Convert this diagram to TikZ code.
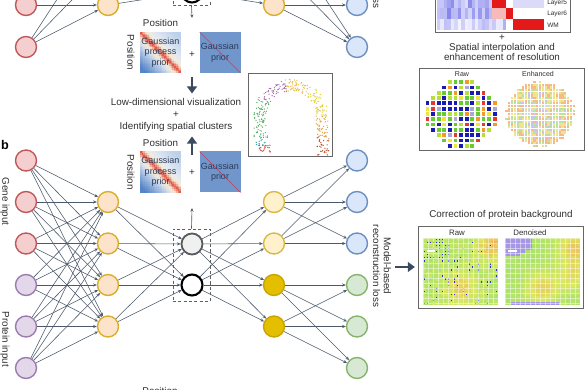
\documentclass[tikz,border=0pt]{standalone}
\usepackage{fontspec}
\setmainfont{Liberation Sans}
\usetikzlibrary{arrows.meta,calc,positioning,fit}

\definecolor{txtcol}{HTML}{2E2E2E}
\definecolor{genefill}{HTML}{F5CFD0}
\definecolor{genedraw}{HTML}{C0585A}
\definecolor{protfill}{HTML}{E3D7EA}
\definecolor{protdraw}{HTML}{9C7BAF}
\definecolor{encfill}{HTML}{FDE3CA}
\definecolor{encdraw}{HTML}{D9AE2B}
\definecolor{decfill}{HTML}{FFF1CC}
\definecolor{decdraw}{HTML}{D8B848}
\definecolor{golddeep}{HTML}{E4BF00}
\definecolor{golddraw}{HTML}{C9A300}
\definecolor{outgfill}{HTML}{DAE7FA}
\definecolor{outgdraw}{HTML}{6D8FC0}
\definecolor{outpfill}{HTML}{D7E9D4}
\definecolor{outpdraw}{HTML}{86B46A}
\definecolor{linkcol}{HTML}{4C5A6B}
\definecolor{arrcol}{HTML}{3B4A5E}
\definecolor{gaufill}{HTML}{7096CC}
\definecolor{gptext}{HTML}{2D3B58}
\definecolor{gpdeep}{HTML}{5585C8}
\definecolor{gppale}{HTML}{EEF1F6}
\definecolor{gpwarm}{HTML}{F8E6C4}
\definecolor{gpred}{HTML}{E05A4E}
\definecolor{gplite}{HTML}{BCD0EA}
\definecolor{hblue}{HTML}{5B5BE6}
\definecolor{hred}{HTML}{E41A1A}
\definecolor{rgreen}{HTML}{66CC33}
\definecolor{rlime}{HTML}{B5E03A}
\definecolor{ryellow}{HTML}{F0E33C}
\definecolor{rred}{HTML}{E43B2E}
\definecolor{rblue}{HTML}{1A1AB5}
\definecolor{rorange}{HTML}{F39A26}
\definecolor{rlav}{HTML}{A9A9D6}
\definecolor{eorange}{HTML}{F6B98A}
\definecolor{eyellow}{HTML}{F1E28E}
\definecolor{egreen}{HTML}{B9E39E}
\definecolor{elav}{HTML}{CAC4E8}
\definecolor{egray}{HTML}{DADADA}
\definecolor{pgreen}{HTML}{98E070}
\definecolor{pyellow}{HTML}{DCE85E}
\definecolor{porange}{HTML}{F2AE5E}
\definecolor{pblue}{HTML}{3535C4}
\definecolor{plav}{HTML}{A597E4}
\definecolor{umbrown}{HTML}{B5532A}
\definecolor{umorange}{HTML}{E39A2C}
\definecolor{umyellow}{HTML}{E3CF35}
\definecolor{umgold}{HTML}{EAB840}
\definecolor{ummauve}{HTML}{A46FB0}
\definecolor{umgreen}{HTML}{57AE62}
\definecolor{umteal}{HTML}{3AA6A6}
\definecolor{umred}{HTML}{D43A2E}

\pgfmathdeclarerandomlist{rawspots}{{rgreen}{rgreen}{rgreen}{rgreen}{rlime}{ryellow}{rred}{rblue}{rblue}{rblue}{rorange}{rlav}}
\pgfmathdeclarerandomlist{enhout}{{eorange}{eorange}{eyellow}{eorange}{egreen}{eyellow}}
\pgfmathdeclarerandomlist{enhmid}{{eyellow}{egreen}{egreen}{eorange}{elav}{eyellow}}
\pgfmathdeclarerandomlist{enhin}{{egreen}{elav}{egray}{eyellow}{egreen}{eorange}}

\begin{document}
\begin{tikzpicture}[x=0.25mm, y=-0.25mm,
  font=\fontsize{7}{8.5}\selectfont, every node/.style={text=txtcol},
  neuron/.style={circle, minimum size=5.25mm, inner sep=0pt, line width=1pt},
  gene/.style={neuron, fill=genefill, draw=genedraw},
  prot/.style={neuron, fill=protfill, draw=protdraw},
  enc/.style={neuron, fill=encfill, draw=encdraw},
  decl/.style={neuron, fill=decfill, draw=decdraw},
  decd/.style={neuron, fill=golddeep, draw=golddraw},
  outg/.style={neuron, fill=outgfill, draw=outgdraw},
  outp/.style={neuron, fill=outpfill, draw=outpdraw},
  zgray/.style={neuron, fill=gray!12, draw=gray!70!black, line width=1.3pt},
  zblack/.style={neuron, fill=white, draw=black, line width=1.5pt},
  zbox/.style={draw=gray!75!black, dash pattern=on 2.2pt off 1.6pt, line width=0.6pt, inner sep=0pt},
  nnlink/.style={draw=linkcol, line width=0.4pt, -{Stealth[length=2.6pt,width=2.2pt]}},
  thinarr/.style={draw=gray!70!black, line width=0.45pt, -{Stealth[length=2.6pt,width=2.2pt]}},
  bigarr/.style={draw=arrcol, line width=2.1pt, -{Triangle[length=5pt,width=7pt]}},
  gpbox/.style={minimum width=10.25mm, minimum height=10.25mm, inner sep=0pt,
    align=center, font=\fontsize{6.4}{7.4}\selectfont, text=gptext},
  gaubox/.style={gpbox, fill=gaufill,
    path picture={\draw[red!55!gaufill, line width=0.3pt] (path picture bounding box.north west) -- (path picture bounding box.south east);}},
  panel/.style={draw=gray!80!black, line width=0.5pt, inner sep=0pt},
  meshline/.style={draw=white, line width=0.12mm, opacity=0.45},
  small/.style={font=\fontsize{5}{6}\selectfont}]

  \useasboundingbox (0,0) rectangle (585,390);
  \clip (0,0) rectangle (585,390);

  % ---- top network, cut by the page edge
  \foreach \i/\y in {1/-79,2/-37,3/5,4/47} \node[gene] (ta\i) at (26,\y) {};
  \foreach \i/\y in {1/-79,2/-37,3/5} \node[enc] (tb\i) at (108,\y) {};
  \node[zgray] (tz1) at (192,-49) {};
  \node[zblack] (tz2) at (192,-8) {};
  \foreach \i/\y in {1/-79,2/-37,3/5} \node[enc] (tc\i) at (274,\y) {};
  \foreach \i/\y in {1/-79,2/-37,3/5,4/47} \node[outg] (td\i) at (357,\y) {};
  \foreach \i in {1,...,4} \foreach \j in {1,2,3} \draw[nnlink] (ta\i) -- (tb\j);
  \foreach \i in {1,2,3} \foreach \j in {1,2} \draw[nnlink] (tb\i) -- (tz\j);
  \foreach \i in {1,2} \foreach \j in {1,2,3} \draw[nnlink] (tz\i) -- (tc\j);
  \foreach \i in {1,2,3} \foreach \j in {1,...,4} \draw[nnlink] (tc\i) -- (td\j);
  \node[zbox, fit={(173,-67) (210,5)}] (tzbox) {};
  \coordinate (tzout) at (192,18);
  \draw[thinarr] (tzbox.south) -- (tzout);
  \node[rotate=-90, align=center, font=\fontsize{7}{7.8}\selectfont] (tloss) at (382,-33) {Model-based\\reconstruction loss};

  % ---- kernel pictures behind the Gaussian process boxes
  \foreach \gx/\gy in {140/32, 140/151.5} {
    \foreach \c in {0,...,23} {
      \foreach \r in {0,...,23} {
        \pgfmathtruncatemacro\dd{\r-\c}
        \pgfmathtruncatemacro\pz{min(100,30*abs(\dd))}
        \pgfmathtruncatemacro\pq{min(100,12*abs(\dd))}
        \pgfmathtruncatemacro\pb{min(100,max(0,6*abs(\dd)-20))}
        \ifnum\dd>0 \def\gbase{gpdeep}\else\def\gbase{gplite}\fi
        \fill[\gbase!\pb!gppale!\pq!gpwarm!\pz!gpred] ({\gx+1.7083*\c},{\gy+1.7083*\r}) rectangle ++(1.8,1.8);
      }
    }
  }

  % ---- priors, panel a
  \node[gpbox] (tgp) at (160.5,52.5) {Gaussian\\process\\prior};
  \node[above=0pt of tgp] (tgpx) {Position};
  \node[rotate=-90] (tgpy) at (131,52.5) {Position};
  \node (tplus) at (192,55) {+};
  \node[gaubox] (tgau) at (220,52.5) {Gaussian\\prior};

  \node[align=center] (lowdim) at (176,115) {Low-dimensional visualization\\+\\Identifying spatial clusters};
  \coordinate (tdown) at (192,77);
  \draw[bigarr] (tdown) -- (tdown |- lowdim.north);

  % ---- priors, panel b
  \node[gpbox] (bgp) at (160.5,172) {Gaussian\\process\\prior};
  \node[above=0pt of bgp] (bgpx) {Position};
  \node[rotate=-90] (bgpy) at (131,172) {Position};
  \node (bplus) at (192,173) {+};
  \node[gaubox] (bgau) at (220,172) {Gaussian\\prior};
  \coordinate (bup) at (192,155);
  \draw[bigarr] (bup) -- (bup |- lowdim.south);

  % ---- panel b network
  \node[font=\bfseries\fontsize{9}{9}\selectfont, text=black] (lblb) at (5,145) {b};
  \node[rotate=-90] (genelbl) at (5,201.5) {Gene input};
  \node[rotate=-90] (protlbl) at (5,339.5) {Protein input};
  \foreach \i/\y in {1/160.5,2/202,3/243.5} \node[gene] (in\i) at (26,\y) {};
  \foreach \i/\y in {4/285,5/326.5,6/368} \node[prot] (in\i) at (26,\y) {};
  \foreach \i/\y in {1/202,2/243.5,3/285,4/326.5} \node[enc] (h\i) at (108,\y) {};
  \node[zgray] (z1) at (192,244) {};
  \node[zblack] (z2) at (192,285) {};
  \foreach \i/\y in {1/202,2/243.5} \node[decl] (d\i) at (274,\y) {};
  \foreach \i/\y in {3/285,4/326.5} \node[decd] (d\i) at (274,\y) {};
  \foreach \i/\y in {1/160.5,2/202,3/243.5} \node[outg] (o\i) at (357,\y) {};
  \foreach \i/\y in {4/285,5/326.5,6/368} \node[outp] (o\i) at (357,\y) {};
  \foreach \i in {1,...,6} \foreach \j in {1,...,4} \draw[nnlink] (in\i) -- (h\j);
  \foreach \i in {1,...,4} \foreach \j in {1,2} \draw[nnlink] (h\i) -- (z\j);
  \foreach \i in {1,2} \foreach \j in {1,...,4} \draw[nnlink] (z\i) -- (d\j);
  \foreach \i in {1,2} \foreach \j in {1,2,3} \draw[nnlink] (d\i) -- (o\j);
  \foreach \i in {3,4} \foreach \j in {4,5,6} \draw[nnlink] (d\i) -- (o\j);
  \node[zbox, fit={(173,229) (210,301)}] (zbox) {};
  \coordinate (zout) at (192,208);
  \draw[thinarr] (zbox.north) -- (zout);
  \node[rotate=-90, align=center, font=\fontsize{7}{7.8}\selectfont] (bloss) at (382,266) {Model-based\\reconstruction loss};
  \node (bpos) at (160,391) {Position};

  % ---- embedding plot
  \draw[panel] (248,73) rectangle (332,156);
  \pgfmathsetseed{11}
  \foreach \a/\b/\col/\n in {0/55/umyellow/65, 55/100/umgold/55, 100/150/ummauve/55, 150/180/umgreen/40} {
    \foreach \k in {1,...,\n} {
      \pgfmathsetmacro\t{\a+(\b-\a)*rnd}
      \pgfmathsetmacro\r{25+12*rnd}
      \fill[\col] ({291+\r*cos(\t)},{116-\r*sin(\t)}) circle (0.17mm);
    }
  }
  \foreach \xa/\ya/\yb/\col/\n in {316/116/137/umorange/40, 317/136/156/umbrown/36, 254/116/137/umgreen/40, 256/136/146/umteal/20, 259/145/153/umred/20} {
    \foreach \k in {1,...,\n} {
      \fill[\col] ({\xa+12*rnd},{\ya+(\yb-\ya)*rnd}) circle (0.17mm);
    }
  }

  % ---- heatmap of layer markers
  \draw[panel] (435,-20) rectangle (570,32);
  \foreach \c in {0,...,30} {
    \pgfmathsetmacro\xa{437+3.45*\c}
    \pgfmathtruncatemacro\pa{20+55*rnd}
    \pgfmathtruncatemacro\pb{20+55*rnd}
    \pgfmathtruncatemacro\pc{20+55*rnd}
    \pgfmathtruncatemacro\pd{5+45*rnd}
    \def\ra{hblue!\pa!white}\def\rb{hblue!\pb!white}\def\rc{hblue!\pc!white}\def\rd{hblue!\pd!white}
    \ifnum\c>10 \def\ra{hred}\fi
    \ifnum\c>15 \def\ra{hblue!\pd!white}\def\rb{hred}\def\rc{hred!30!white}\fi
    \ifnum\c>19 \def\ra{hblue!20!white}\def\rb{white}\def\rc{hred}\def\rd{white}\fi
    \ifnum\c>21 \def\rb{hblue!22!white}\def\rc{white}\def\rd{hred}\fi
    \fill[\ra] (\xa,-13) rectangle ++(3.45,10.5);
    \fill[\rb] (\xa,-2.5) rectangle ++(3.45,11);
    \fill[\rc] (\xa,8.5) rectangle ++(3.45,10.5);
    \fill[\rd] (\xa,19) rectangle ++(3.45,11);
  }
  \node[anchor=west, font=\fontsize{4.6}{5}\selectfont, inner sep=0pt] (l5) at (547,3) {Layer5};
  \node[anchor=west, font=\fontsize{4.6}{5}\selectfont, inner sep=0pt] (l6) at (547,14) {Layer6};
  \node[anchor=west, font=\fontsize{4.6}{5}\selectfont, inner sep=0pt] (lwm) at (547,25) {WM};
  \node (hplus) at (502,38) {+};
  \node[align=center, font=\fontsize{7}{7.6}\selectfont] (interp) at (502,52) {Spatial interpolation and\\enhancement of resolution};

  % ---- raw and enhanced spots
  \draw[panel] (419,68) rectangle (584,150);
  \node[small] (rawlbl) at (462,74) {Raw};
  \node[small] (enhlbl) at (538,74) {Enhanced};
  \foreach \i in {-6,...,6} {
    \foreach \j in {-6,...,6} {
      \pgfmathtruncatemacro\ins{((\i)*(\i)+(\j)*(\j))<=40}
      \ifnum\ins=1
        \pgfmathrandomitem\rcol{rawspots}
        \fill[\rcol] ({461+5.6*\i-1.9},{114+5.3*\j-1.9}) rectangle ++(3.8,3.8);
      \fi
    }
  }
  \foreach \i in {-12,...,12} {
    \foreach \j in {-12,...,12} {
      \pgfmathsetmacro\rr{sqrt((\i)*(\i)+(\j)*(\j))+0.8*rnd}
      \ifdim\rr pt<12.4pt
        \ifdim\rr pt>9.8pt \pgfmathrandomitem\ecol{enhout}
        \else\ifdim\rr pt>6pt \pgfmathrandomitem\ecol{enhmid}
        \else \pgfmathrandomitem\ecol{enhin}\fi\fi
        \fill[\ecol] ({540+2.8*\i-1.1},{114+2.65*\j-1.1}) rectangle ++(2.2,2.2);
      \fi
    }
  }

  % ---- protein background
  \node (protttl) at (501,215) {Correction of protein background};
  \node[panel, fit={(418,226) (583,308)}] (protpanel) {};
  \node[font=\fontsize{5.6}{6}\selectfont] (praw) at (457,233) {Raw};
  \node[font=\fontsize{5.6}{6}\selectfont] (pden) at (530,233) {Denoised};
  \foreach \i in {0,...,24} {
    \foreach \j in {0,...,21} {
      \pgfmathsetmacro\fv{0.12+0.6*exp(-((\i-23)^2+(\j-2)^2)/30)+0.5*exp(-((\i-12)^2+(\j-16)^2)/25)+0.25*rnd}
      \pgfmathtruncatemacro\pg{min(100,max(0,200*\fv))}
      \pgfmathtruncatemacro\po{min(100,max(0,200*(\fv-0.5)))}
      \fill[porange!\po!pyellow!\pg!pgreen] ({423+3*\i},{238+3.05*\j}) rectangle ++(3.1,3.15);
      \pgfmathsetmacro\spp{0.14+0.32*(\i<9)*(\j<8)}
      \pgfmathtruncatemacro\sp{rnd<\spp}
      \ifnum\sp=1 \fill[pblue] ({423.6+3*\i},{238.8+3.05*\j}) rectangle ++(1.8,1.4); \fi
      \pgfmathsetmacro\gv{0.12+0.6*exp(-((\i-23)^2+(\j-3)^2)/35)+0.55*exp(-((\i-12)^2+(\j-16)^2)/30)+0.4*exp(-((\i-22)^2+(\j-12)^2)/20)+0.1*rnd}
      \pgfmathtruncatemacro\qg{min(100,max(0,200*\gv))}
      \pgfmathtruncatemacro\qo{min(100,max(0,200*(\gv-0.5)))}
      \pgfmathsetmacro\ell{(\i-2)*(\i-2)/45+(\j-1.5)*(\j-1.5)/14}
      \def\dcol{porange!\qo!pyellow!\qg!pgreen}
      \ifdim\ell pt<1pt \def\dcol{plav}\fi
      \ifnum\j=21 \ifnum\i>1 \ifnum\i<18 \def\dcol{plav}\fi\fi\fi
      \fill[\dcol] ({505+3*\i},{238+3.05*\j}) rectangle ++(3.1,3.15);
    }
  }
  \foreach \k in {0,...,14} {
    \draw[meshline] ({423+5*\k},238) -- ++(0,67);
    \draw[meshline] ({505+5*\k},238) -- ++(0,67);
  }
  \foreach \k in {0,...,13} {
    \draw[meshline] (423,{238+5*\k}) -- ++(75,0);
    \draw[meshline] (505,{238+5*\k}) -- ++(75,0);
  }
  \draw[white, line width=0.8pt] (427,251) -- (435,251);
  \draw[white, line width=0.8pt] (508,251) -- (517,251);
  \coordinate (protarr) at (395,267);
  \draw[bigarr, shorten >=0.7mm] (protarr) -- (protpanel.west |- protarr);
\end{tikzpicture}
\end{document}
